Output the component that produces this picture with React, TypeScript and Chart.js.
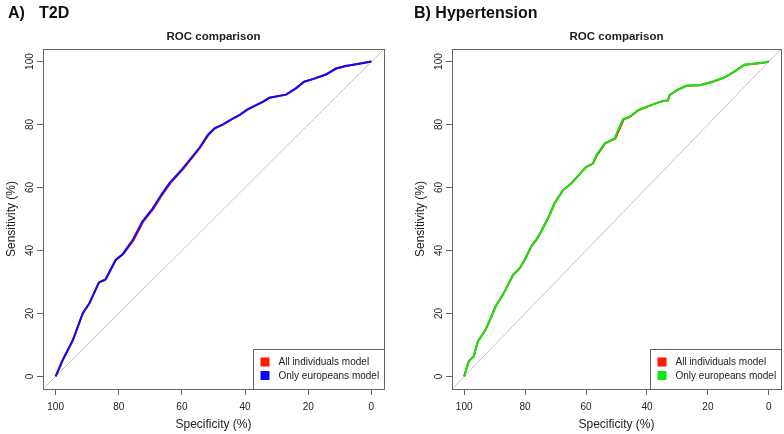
import React, { useEffect, useRef } from "react";
import { Chart, registerables } from "chart.js";

Chart.register(...registerables);

const FONT = '"Liberation Sans", Arial, Helvetica, sans-serif';

const axisMin = -4;
const axisMax = 104;
const tickValues = [0, 20, 40, 60, 80, 100];
const legendLabels = ["All individuals model", "Only europeans model"];
const plotTitle = "ROC comparison";
const xTitle = "Specificity (%)";
const yTitle = "Sensitivity (%)";

// A) T2D — only europeans model
const t2dEurSpec = [100, 97.7, 94.5, 91.4, 89.3, 86.3, 84.2, 81.0, 78.7, 75.6, 72.6, 69.3, 66.6, 64.0, 59.8, 55.1, 54.4, 51.8, 49.7, 47.1, 43.9, 41.8, 39.2, 34.4, 32.3, 27.0, 23.9, 21.3, 18.1, 14.4, 11.2, 8.1, 3.9, 0];
const t2dEurSens = [0, 5.3, 11.6, 20.1, 23.2, 29.8, 30.8, 37.0, 38.9, 43.3, 49.1, 53.3, 57.6, 61.3, 66.0, 71.8, 72.7, 76.7, 78.8, 80.0, 81.9, 83.0, 84.8, 87.2, 88.5, 89.5, 91.5, 93.6, 94.6, 95.9, 97.8, 98.6, 99.3, 100];
// A) T2D — all individuals model
const t2dAllSpec = [100, 97.7, 94.5, 91.4, 89.3, 86.3, 84.2, 80.9, 78.6, 75.3, 72.3, 69.0, 66.3, 63.7, 59.5, 54.9, 54.2, 51.6, 49.6, 47.1, 43.9, 41.8, 39.2, 34.4, 32.3, 27.0, 23.9, 21.3, 18.1, 14.4, 11.2, 8.1, 3.9, 0];
const t2dAllSens = [0, 5.3, 11.6, 20.1, 23.2, 29.8, 30.8, 37.0, 38.9, 43.3, 49.1, 53.3, 57.6, 61.3, 66.0, 71.8, 72.7, 76.7, 78.8, 80.0, 81.9, 83.0, 84.8, 87.2, 88.5, 89.5, 91.5, 93.6, 94.6, 95.9, 97.8, 98.6, 99.3, 100];

// B) Hypertension — only europeans model
const htEurSpec = [100, 98.5, 96.9, 95.5, 93.0, 91.5, 89.7, 87.3, 84.0, 81.8, 80.2, 77.7, 76.4, 74.8, 72.0, 70.4, 67.6, 64.9, 62.7, 60.0, 57.8, 56.6, 53.9, 50.6, 49.5, 47.9, 45.7, 42.9, 39.1, 35.8, 33.1, 32.6, 30.2, 27.1, 22.7, 18.4, 16.2, 14.0, 11.2, 8.0, 4.1, 1.4, 0];
const htEurSens = [0, 4.8, 6.3, 11.1, 14.8, 18.0, 22.2, 25.9, 32.2, 34.3, 37.0, 41.7, 43.3, 45.9, 51.2, 54.9, 59.1, 61.3, 63.6, 66.5, 67.6, 70.3, 74.0, 75.6, 78.2, 81.7, 82.5, 84.6, 86.0, 87.2, 87.7, 89.3, 90.9, 92.3, 92.5, 93.6, 94.4, 95.2, 96.9, 99.0, 99.4, 99.7, 100];
// B) Hypertension — all individuals model
const htAllSpec = [100, 98.5, 96.9, 95.5, 93.0, 91.5, 89.7, 87.3, 84.0, 81.8, 80.2, 77.7, 76.4, 74.8, 72.0, 70.4, 67.6, 64.9, 62.7, 60.0, 57.7, 56.4, 53.7, 50.4, 49.2, 47.6, 45.5, 42.7, 39.0, 35.8, 33.1, 32.6, 30.2, 27.1, 22.7, 18.4, 16.2, 14.0, 11.2, 8.0, 4.1, 1.4, 0];
const htAllSens = [0, 4.8, 6.3, 11.1, 14.8, 18.0, 22.2, 25.9, 32.2, 34.3, 37.0, 41.7, 43.3, 45.9, 51.2, 54.9, 59.1, 61.3, 63.6, 66.5, 67.6, 70.3, 74.0, 75.6, 78.2, 81.7, 82.5, 84.6, 86.0, 87.2, 87.7, 89.3, 90.9, 92.3, 92.5, 93.6, 94.4, 95.2, 96.9, 99.0, 99.4, 99.7, 100];

const RED = "#ff1a00";
const BLUE = "#0a0aff";
const GREEN = "#10e610";
const AXIS = "#666666";
const TEXT = "#222222";

const toPts = (xs: number[], ys: number[]) => xs.map((x, i) => ({ x, y: ys[i] }));

const decorPlugin = {
  id: "decor",
  afterDraw(chart: any, _args: any, opts: any) {
    const { ctx, chartArea: a } = chart;
    ctx.save();
    ctx.strokeStyle = AXIS;
    ctx.lineWidth = 1;
    const L = Math.round(a.left) + 0.5;
    const T = Math.round(a.top) + 0.5;
    const R = Math.round(a.right) + 0.5;
    const B = Math.round(a.bottom) + 0.5;
    ctx.strokeRect(L, T, R - L, B - T);
    ctx.fillStyle = TEXT;
    ctx.font = `bold 11.5px ${FONT}`;
    ctx.textAlign = "center";
    ctx.textBaseline = "alphabetic";
    ctx.fillText(opts.title, (a.left + a.right) / 2, a.top - 9);
    ctx.font = `10px ${FONT}`;
    const labels: string[] = opts.labels;
    const tw = Math.max(...labels.map((l) => ctx.measureText(l).width));
    const w = Math.round(tw + 30);
    const h = 40;
    const x0 = R - w;
    const y0 = B - h;
    ctx.fillStyle = "#ffffff";
    ctx.fillRect(x0, y0, w, h);
    ctx.strokeStyle = AXIS;
    ctx.strokeRect(x0, y0, w, h);
    labels.forEach((lab, i) => {
      const cy = y0 + 12.5 + i * 13.5;
      ctx.fillStyle = opts.colors[i];
      ctx.fillRect(x0 + 7, cy - 4.5, 9, 9);
      ctx.fillStyle = TEXT;
      ctx.textAlign = "left";
      ctx.textBaseline = "middle";
      ctx.fillText(lab, x0 + 25, cy + 0.5);
    });
    ctx.restore();
  },
};

type PanelCfg = {
  allSpec: number[];
  allSens: number[];
  eurSpec: number[];
  eurSens: number[];
  eurColor: string;
  padLeft: number;
  padRight: number;
};

function makeConfig(p: PanelCfg): any {
  return {
    type: "line",
    data: {
      datasets: [
        {
          label: legendLabels[1],
          data: toPts(p.eurSpec, p.eurSens),
          borderColor: p.eurColor,
          borderWidth: 2,
          pointRadius: 0,
          tension: 0,
          fill: false,
        },
        {
          label: legendLabels[0],
          data: toPts(p.allSpec, p.allSens),
          borderColor: RED,
          borderWidth: 2,
          pointRadius: 0,
          tension: 0,
          fill: false,
        },
        {
          label: "chance",
          data: [
            { x: axisMax, y: axisMin },
            { x: axisMin, y: axisMax },
          ],
          borderColor: "#c4c4c4",
          borderWidth: 1,
          pointRadius: 0,
          tension: 0,
          fill: false,
        },
      ],
    },
    options: {
      responsive: false,
      animation: false,
      devicePixelRatio: 1,
      layout: { padding: { left: p.padLeft, right: p.padRight, top: 49, bottom: 0 } },
      plugins: {
        legend: { display: false },
        tooltip: { enabled: false },
        decor: { title: plotTitle, labels: legendLabels, colors: [RED, p.eurColor] },
      },
      scales: {
        x: {
          type: "linear",
          reverse: true,
          min: axisMin,
          max: axisMax,
          afterBuildTicks: (s: any) => {
            s.ticks = tickValues.map((v) => ({ value: v }));
          },
          afterFit: (s: any) => {
            s.height = 45;
          },
          grid: { drawOnChartArea: false, drawTicks: true, tickLength: 6, color: AXIS, tickColor: AXIS, tickWidth: 1 },
          border: { display: true, color: AXIS, width: 1 },
          ticks: { color: TEXT, font: { family: FONT, size: 10 }, padding: 6, maxRotation: 0, autoSkip: false },
          title: { display: true, text: xTitle, color: TEXT, font: { family: FONT, size: 12 }, padding: { top: 0, bottom: 2 } },
        },
        y: {
          type: "linear",
          min: axisMin,
          max: axisMax,
          afterBuildTicks: (s: any) => {
            s.ticks = tickValues.map((v) => ({ value: v }));
          },
          afterFit: (s: any) => {
            s.width = 43;
          },
          grid: { drawOnChartArea: false, drawTicks: true, tickLength: 6, color: AXIS, tickColor: AXIS, tickWidth: 1 },
          border: { display: true, color: AXIS, width: 1 },
          ticks: {
            color: TEXT,
            font: { family: FONT, size: 10 },
            padding: -2,
            minRotation: 90,
            maxRotation: 90,
            crossAlign: "center",
            autoSkip: false,
          },
          title: { display: true, text: yTitle, color: TEXT, font: { family: FONT, size: 12 }, padding: { top: 4, bottom: 0 } },
        },
      },
    },
    plugins: [decorPlugin],
  };
}

function Panel({ cfg, left }: { cfg: PanelCfg; left: number }) {
  const ref = useRef<HTMLCanvasElement>(null);
  useEffect(() => {
    const chart = new Chart(ref.current as HTMLCanvasElement, makeConfig(cfg));
    return () => chart.destroy();
  }, []);
  return (
    <canvas
      ref={ref}
      width={392}
      height={434}
      style={{ position: "absolute", left, top: 0, width: 392, height: 434 }}
    />
  );
}

const labelStyle: React.CSSProperties = {
  position: "absolute",
  top: 4.5,
  font: `bold 16px ${FONT}`,
  lineHeight: "16px",
  color: "#111",
  whiteSpace: "pre",
};

export default function App() {
  const t2d: PanelCfg = {
    allSpec: t2dAllSpec,
    allSens: t2dAllSens,
    eurSpec: t2dEurSpec,
    eurSens: t2dEurSens,
    eurColor: BLUE,
    padLeft: 0,
    padRight: 8,
  };
  const ht: PanelCfg = {
    allSpec: htAllSpec,
    allSens: htAllSens,
    eurSpec: htEurSpec,
    eurSens: htEurSens,
    eurColor: GREEN,
    padLeft: 17,
    padRight: 3,
  };
  return (
    <div style={{ position: "fixed", left: 0, top: 0, width: 784, height: 434, background: "#fff", overflow: "hidden" }}>
      <Panel cfg={t2d} left={0} />
      <Panel cfg={ht} left={392} />
      <span style={{ ...labelStyle, left: 8 }}>A)</span>
      <span style={{ ...labelStyle, left: 39 }}>T2D</span>
      <span style={{ ...labelStyle, left: 414 }}>B) Hypertension</span>
    </div>
  );
}
